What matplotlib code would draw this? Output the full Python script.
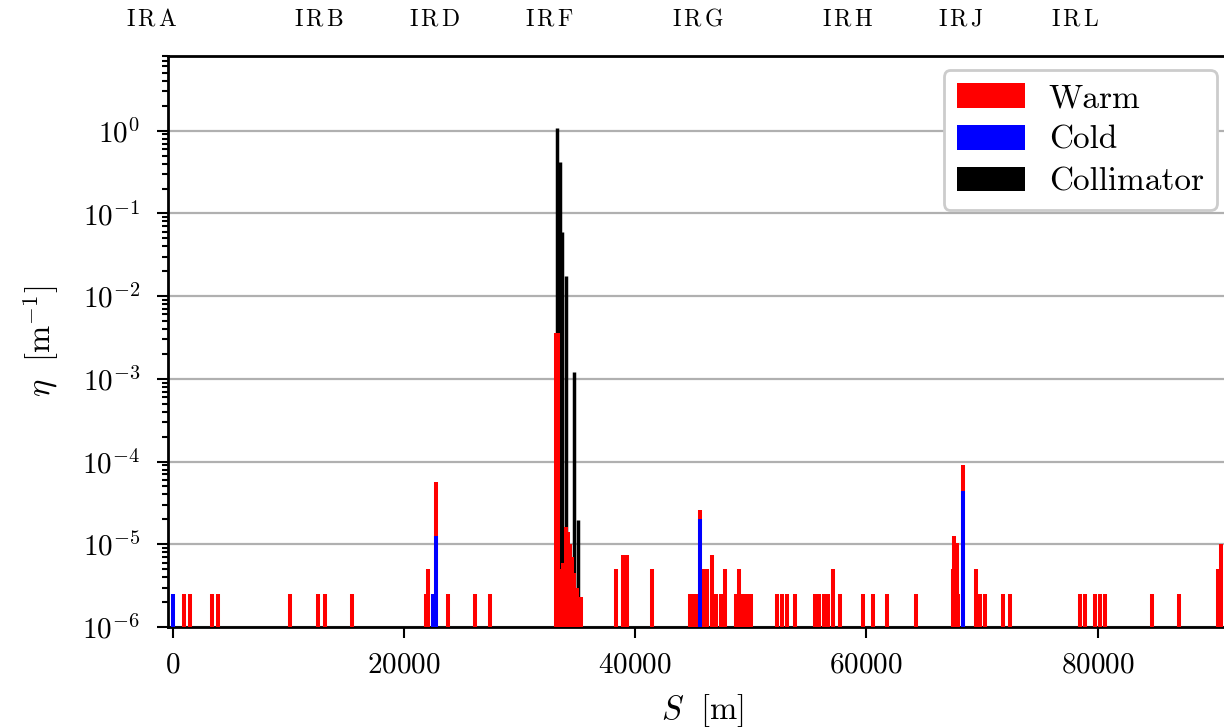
import numpy as np
import matplotlib
matplotlib.use('Agg')
import matplotlib.pyplot as plt
import matplotlib.transforms as mtransforms
from matplotlib.patches import Patch

plt.rcParams['font.family'] = 'cmr10'
plt.rcParams['mathtext.fontset'] = 'cm'
plt.rcParams['axes.formatter.use_mathtext'] = True

# loss map data, positions in m, eta in 1/m
warm_s = [980, 1470, 3400, 3900, 10130, 12600, 13200, 15500, 21900, 22100, 22750, 23800, 26150, 27450,
          33150, 33350, 33600, 33800, 34000, 34200, 34400, 34550, 34750, 34950, 35350,
          38350, 38950, 39300, 41470, 44750, 45100, 45400, 45600, 45900, 46250, 46650, 47000, 47400, 47750,
          48700, 49000, 49300, 49650, 50000, 52300, 52700, 53100, 53800, 55550, 55900, 56300, 56650,
          57100, 57700, 59700, 60550, 61750, 64260, 67450, 67600, 67800, 67950, 68350, 69450, 69850,
          70300, 71850, 72400, 78450, 78950, 79750, 80200, 80600, 84700, 87000, 90450, 90700]
warm_eta = [2.5e-6, 2.5e-6, 2.5e-6, 2.5e-6, 2.5e-6, 2.5e-6, 2.5e-6, 2.5e-6, 2.5e-6, 5e-6, 5.7e-5, 2.5e-6, 2.5e-6, 2.5e-6,
            3.6e-3, 3.6e-3, 5e-6, 6e-6, 1.6e-5, 1.4e-5, 1.0e-5, 7e-6, 4.5e-6, 3e-6, 2.3e-6,
            5e-6, 7.5e-6, 7.5e-6, 5e-6, 2.5e-6, 2.5e-6, 2.5e-6, 2.6e-5, 5e-6, 5e-6, 7.5e-6, 2.5e-6, 2.5e-6, 5e-6,
            2.5e-6, 5e-6, 2.5e-6, 2.5e-6, 2.5e-6, 2.5e-6, 2.5e-6, 2.5e-6, 2.5e-6, 2.5e-6, 2.5e-6, 2.5e-6, 2.5e-6,
            5e-6, 2.5e-6, 2.5e-6, 2.5e-6, 2.5e-6, 2.5e-6, 5e-6, 1.25e-5, 1.05e-5, 2.5e-6, 9.1e-5, 5e-6, 2.5e-6,
            2.5e-6, 2.5e-6, 2.5e-6, 2.5e-6, 2.5e-6, 2.5e-6, 2.5e-6, 2.5e-6, 2.5e-6, 2.5e-6, 5e-6, 1.0e-5]

cold_s = [0, 22500, 22750, 45600, 68350]
cold_eta = [2.5e-6, 2.5e-6, 1.25e-5, 2.0e-5, 4.4e-5]

coll_s = [33250, 33500, 33680, 33980, 34680, 35020]
coll_eta = [1.09, 0.42, 0.06, 0.0177, 1.2e-3, 1.95e-5]

ir_names = ['IRA', 'IRB', 'IRD', 'IRF', 'IRG', 'IRH', 'IRJ', 'IRL']
ir_s = [-1800, 12700, 22700, 32600, 45450, 58440, 68140, 78100]

ymin = 1e-6

fig = plt.figure(figsize=(12.24, 7.28), dpi=100)
ax = fig.add_axes([168/1224, 1 - 627/728, 1.01 - 168/1224, (627 - 56)/728])

ax.vlines(coll_s, ymin, coll_eta, color='black', lw=2.5, zorder=2)
ax.vlines(warm_s, ymin, warm_eta, color='red', lw=2.9, zorder=3)
ax.vlines(cold_s, ymin, cold_eta, color='blue', lw=2.9, zorder=4)

ax.set_yscale('log')
ax.set_ylim(1e-6, 8)
ax.set_xlim(-400, -400 + (1.01*1224 - 168)/11.5625*1000)
ax.set_xticks([0, 20000, 40000, 60000, 80000])

ax.grid(axis='y', which='major', color='#b0b0b0', lw=1.6)
ax.set_axisbelow(True)
for side in ['left', 'bottom', 'top']:
    ax.spines[side].set_linewidth(2)
ax.spines['right'].set_visible(False)
ax.tick_params(which='major', length=8, width=1.5, labelsize=21)
ax.tick_params(axis='y', which='major', pad=12)
ax.tick_params(axis='x', which='major', pad=10)
ax.tick_params(which='minor', length=4.5, width=1.5)
ax.tick_params(axis='x', which='minor', bottom=False)

ax.set_xlabel(r'$S\ \ [\mathrm{m}]$', fontsize=23.5, labelpad=10)
ax.set_ylabel(r'$\eta\ \ [\mathrm{m}^{-1}]$', fontsize=23.5, labelpad=15)

# IR names above the frame, spaced out like small caps
trans = mtransforms.blended_transform_factory(ax.transData, ax.transAxes)
for name, s in zip(ir_names, ir_s):
    ax.text(s, 1.064, r'$\mathrm{' + r'\,'.join(name) + '}$', transform=trans,
            ha='center', va='center', fontsize=17, clip_on=False)

handles = [Patch(facecolor='red', label='Warm'),
           Patch(facecolor='blue', label='Cold'),
           Patch(facecolor='black', label='Collimator')]
leg = ax.legend(handles=handles, loc='upper right', bbox_to_anchor=(1217/1224, 1 - 70/728),
                bbox_transform=fig.transFigure, borderaxespad=0, fontsize=24,
                handlelength=2.05, handleheight=0.76, handletextpad=0.7, labelspacing=0.35,
                borderpad=0.4, fancybox=True, framealpha=1)
leg.get_frame().set_linewidth(2)
leg.get_frame().set_edgecolor('#cccccc')

fig.savefig('out.png', dpi=100)
